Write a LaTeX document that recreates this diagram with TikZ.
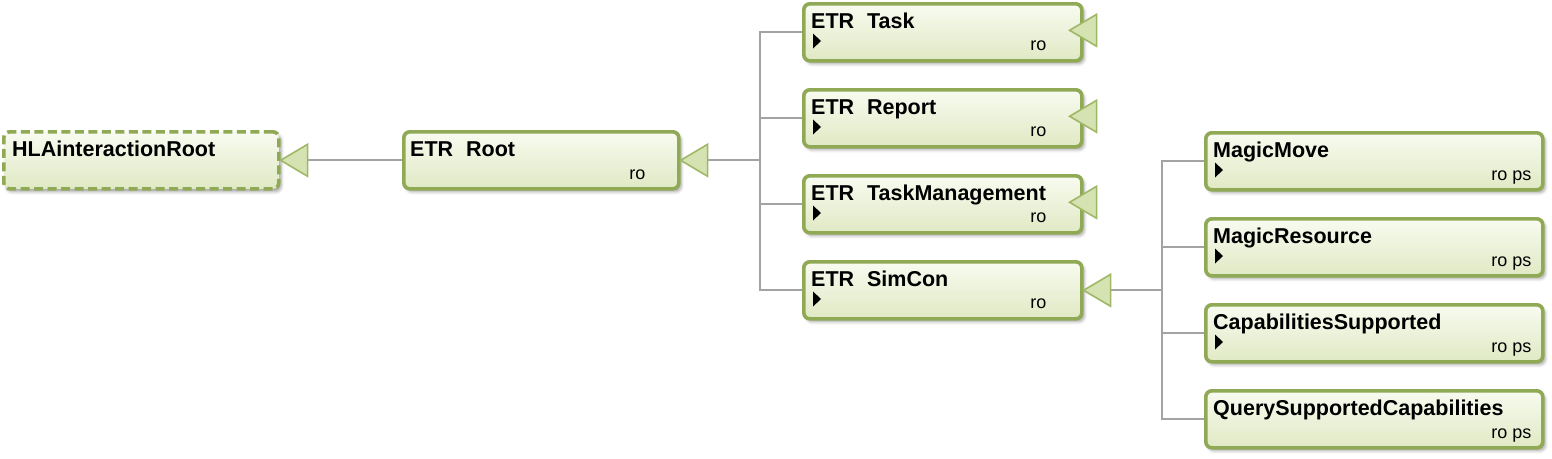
\documentclass[tikz,border=0pt]{standalone}
\usepackage{fontspec}
\setmainfont{Liberation Sans}
\usetikzlibrary{shadows.blur}
\definecolor{bord}{HTML}{90A955}
\definecolor{filltop}{HTML}{F8FBF0}
\definecolor{fillbot}{HTML}{E0E9C4}
\definecolor{trifill}{HTML}{D5E2B2}
\definecolor{tribord}{HTML}{9FB866}
\definecolor{conncol}{HTML}{A3A3A3}
\tikzset{
  cls/.style={draw=bord, line width=3.6pt, rounded corners=6pt, top color=filltop, bottom color=fillbot,
    anchor=north west, inner sep=0pt, minimum height=57pt,
    blur shadow={shadow xshift=2.5pt, shadow yshift=-3pt, shadow blur radius=3pt, shadow opacity=35}},
  absc/.style={cls, dash pattern=on 9pt off 4.5pt},
  ttl/.style={anchor=base west, inner sep=0pt, font=\fontsize{21.5}{25}\selectfont\bfseries},
  mods/.style={anchor=base east, inner sep=0pt, font=\fontsize{18}{22}\selectfont},
  tri/.style={draw=tribord, fill=trifill, line width=1.6pt, line join=miter},
  conn/.style={draw=conncol, line width=1.7pt},
  expmark/.style={fill=black}
}
\begin{document}
\begin{tikzpicture}[x=1pt,y=-1pt]
\useasboundingbox (0,0) rectangle (1552,458);

% ---------- boxes ----------
\node[absc, minimum width=275pt] (hla) at (2,130) {};
\node[cls, minimum width=275pt] (root) at (402,130) {};
\node[cls, minimum width=278pt] (task) at (802,2) {};
\node[cls, minimum width=278pt] (report) at (802,88) {};
\node[cls, minimum width=278pt] (tman) at (802,174) {};
\node[cls, minimum width=278pt] (simcon) at (802,260) {};
\node[cls, minimum width=337pt] (mmove) at (1204,131) {};
\node[cls, minimum width=337pt] (mres) at (1204,217) {};
\node[cls, minimum width=337pt] (capsup) at (1204,303) {};
\node[cls, minimum width=337pt] (qsc) at (1204,389) {};

% ---------- titles ----------
\node[ttl] (hlaT) at ([shift={(10,26)}]hla.north west) {HLAinteractionRoot};
\node[ttl] (rootT) at ([shift={(8,26)}]root.north west) {ETR\hspace{0.6em}Root};
\node[ttl] (taskT) at ([shift={(9,26)}]task.north west) {ETR\hspace{0.6em}Task};
\node[ttl] (reportT) at ([shift={(9,26)}]report.north west) {ETR\hspace{0.6em}Report};
\node[ttl] (tmanT) at ([shift={(9,26)}]tman.north west) {ETR\hspace{0.6em}TaskManagement};
\node[ttl] (simconT) at ([shift={(9,26)}]simcon.north west) {ETR\hspace{0.6em}SimCon};
\node[ttl] (mmoveT) at ([shift={(9,26)}]mmove.north west) {MagicMove};
\node[ttl] (mresT) at ([shift={(9,26)}]mres.north west) {MagicResource};
\node[ttl] (capsupT) at ([shift={(9,26)}]capsup.north west) {CapabilitiesSupported};
\node[ttl] (qscT) at ([shift={(9,26)}]qsc.north west) {QuerySupportedCapabilities};

% ---------- modifiers ----------
\node[mods] (rootM) at ([shift={(-35,49)}]root.north east) {ro};
\node[mods] (taskM) at ([shift={(-37,48)}]task.north east) {ro};
\node[mods] (reportM) at ([shift={(-37,48)}]report.north east) {ro};
\node[mods] (tmanM) at ([shift={(-37,48)}]tman.north east) {ro};
\node[mods] (simconM) at ([shift={(-37,48)}]simcon.north east) {ro};
\node[mods] (mmoveM) at ([shift={(-13,49)}]mmove.north east) {ro ps};
\node[mods] (mresM) at ([shift={(-13,49)}]mres.north east) {ro ps};
\node[mods] (capsupM) at ([shift={(-13,49)}]capsup.north east) {ro ps};
\node[mods] (qscM) at ([shift={(-13,49)}]qsc.north east) {ro ps};

% ---------- small expand markers ----------
\foreach \b in {task,report,tman,simcon,mmove,mres,capsup}{
  \fill[expmark] ([shift={(11,31.5)}]\b.north west) -- ++(0,15) -- ++(8,-7.5) -- cycle;
}

% ---------- generalization triangles ----------
\foreach \b in {task,report,tman}{
  \draw[tri] ([shift={(-14,-2)}]\b.east) -- ++(27,-16) -- ++(0,32) -- cycle;
}
\draw[tri] (hla.east) -- ++(27,-16) -- ++(0,32) -- cycle;
\draw[tri] (root.east) -- ++(27,-16) -- ++(0,32) -- cycle;
\draw[tri] (simcon.east) -- ++(27,-16) -- ++(0,32) -- cycle;
\coordinate (hlaTB) at ([xshift=27pt]hla.east);
\coordinate (rootTB) at ([xshift=27pt]root.east);
\coordinate (simconTB) at ([xshift=27pt]simcon.east);

% ---------- bus coordinates ----------
\coordinate (busA) at (760,0);
\coordinate (busB) at (1162,0);

% ---------- connectors ----------
\draw[conn] (root.west) -- (hlaTB);
\foreach \b in {task,report,tman,simcon}{
  \draw[conn] (rootTB) -| (busA |- \b.west) -- (\b.west);
}
\foreach \b in {mmove,mres,capsup,qsc}{
  \draw[conn] (simconTB) -| (busB |- \b.west) -- (\b.west);
}
\end{tikzpicture}
\end{document}
